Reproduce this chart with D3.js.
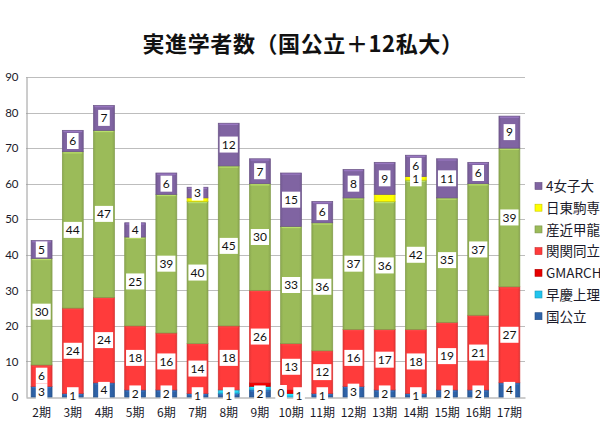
<!DOCTYPE html>
<html>
<head>
<meta charset="utf-8">
<script src="https://cdn.jsdelivr.net/npm/d3@7"></script>
<style>
  html, body { margin: 0; padding: 0; background: #fff; }
  svg { display: block; }
</style>
</head>
<body>
<svg id="chart" width="600" height="430"></svg>
<script>
// ---- data ----
const categories = ["2期","3期","4期","5期","6期","7期","8期","9期","10期","11期","12期","13期","14期","15期","16期","17期"];
const seriesNames = ["国公立","早慶上理","GMARCH","関関同立","産近甲龍","日東駒専","4女子大"];
const kokkoritsu = [3,1,4,2,2,1,1,2,0,1,3,2,1,2,2,4];
const sokei      = [0,0,0,0,0,0,1,1,1,0,0,0,0,0,0,0];
const gmarch     = [0,0,0,0,0,0,0,1,1,0,0,0,0,0,0,0];
const kankan     = [6,24,24,18,16,14,18,26,13,12,16,17,18,19,21,27];
const sankin     = [30,44,47,25,39,40,45,30,33,36,37,36,42,35,37,39];
const nittou     = [0,0,0,0,0,1,0,0,0,0,0,2,1,0,0,0];
const joshi      = [5,6,7,4,6,3,12,7,15,6,8,9,6,11,6,9];
const yTicks = [0,10,20,30,40,50,60,70,80,90];
const title = "実進学者数（国公立＋12私大）";
// series whose data labels are shown for every bar
const labelledSeries = ["国公立","関関同立","産近甲龍","4女子大"];
// extra individual data labels that are shown (series -> category indices)
const extraLabels = { "早慶上理": [8], "日東駒専": [12] };

const seriesValues = [kokkoritsu, sokei, gmarch, kankan, sankin, nittou, joshi];
const colors = ["#2f63a8","#22c4ee","#e60000","#ff3b3b","#9bbb59","#ffff00","#8064a2"];

// ---- layout ----
const svg = d3.select("#chart");
const margin = {left: 26, top: 77, right: 75, bottom: 33};
const W = 600, H = 430;
const innerW = W - margin.left - margin.right;
const innerH = H - margin.top - margin.bottom;

const rows = categories.map((c, i) => {
  const r = {cat: c};
  seriesNames.forEach((s, k) => r[s] = seriesValues[k][i]);
  return r;
});
const stacked = d3.stack().keys(seriesNames)(rows);

const x = d3.scaleBand().domain(categories).range([margin.left, margin.left + innerW]).paddingInner(0.33).paddingOuter(0.165);
const y = d3.scaleLinear().domain([0, 90]).range([margin.top + innerH, margin.top]);

// defs: gradients per series
const defs = svg.append("defs");
colors.forEach((c, k) => {
  const g = defs.append("linearGradient").attr("id", "g" + k).attr("x1", 0).attr("x2", 1).attr("y1", 0).attr("y2", 0);
  const base = d3.color(c);
  g.append("stop").attr("offset", "0%").attr("stop-color", base.darker(0.3));
  g.append("stop").attr("offset", "12%").attr("stop-color", base);
  g.append("stop").attr("offset", "88%").attr("stop-color", base);
  g.append("stop").attr("offset", "100%").attr("stop-color", base.darker(0.3));
});

// title
svg.append("text").attr("x", 303).attr("y", 52).attr("text-anchor", "middle")
  .attr("font-family", "'Noto Sans CJK JP', sans-serif").attr("font-weight", "bold")
  .attr("font-size", 22).attr("letter-spacing", 0.6).attr("fill", "#111").text(title);

// gridlines
const grid = svg.append("g");
grid.selectAll("line").data(yTicks.filter(t => t > 0)).join("line")
  .attr("x1", margin.left).attr("x2", margin.left + innerW)
  .attr("y1", d => Math.round(y(d)) + 0.5).attr("y2", d => Math.round(y(d)) + 0.5)
  .attr("stroke", "#bdbdbd").attr("stroke-width", 1);

// y axis
const yAxis = svg.append("g").attr("transform", `translate(${margin.left + 0.5},0)`)
  .call(d3.axisLeft(y).tickValues(yTicks).tickSize(0).tickPadding(8));
yAxis.select(".domain").attr("stroke", "#9a9a9a");
yAxis.selectAll("text").attr("font-family", "Lato, 'Liberation Sans', sans-serif").attr("font-size", 11.5).attr("fill", "#1a1a2a");

// x axis
const xAxis = svg.append("g").attr("transform", `translate(0,${margin.top + innerH + 0.5})`)
  .call(d3.axisBottom(x).tickSize(0).tickPadding(11));
xAxis.select(".domain").attr("stroke", "#9a9a9a");
xAxis.selectAll("text").attr("font-family", "'Noto Sans CJK JP', sans-serif").attr("font-size", 12).attr("fill", "#1a1a2a");

// bars
const layers = svg.append("g").selectAll("g").data(stacked).join("g")
  .attr("fill", (d, k) => `url(#g${k})`);
layers.selectAll("rect").data(d => d.filter(p => p[1] - p[0] > 0)).join("rect")
  .attr("x", p => x(p.data.cat))
  .attr("width", x.bandwidth())
  .attr("y", p => y(p[1]))
  .attr("height", p => y(p[0]) - y(p[1]))
  .attr("stroke", function() { const k = stacked.indexOf(d3.select(this.parentNode).datum()); return d3.color(colors[k]).darker(0.5); })
  .attr("stroke-width", 0.7);
// top highlight on each segment
layers.each(function(layer, k) {
  d3.select(this).selectAll("line.hl").data(layer.filter(p => p[1] - p[0] > 0)).join("line").attr("class", "hl")
    .attr("x1", p => x(p.data.cat) + 1).attr("x2", p => x(p.data.cat) + x.bandwidth() - 1)
    .attr("y1", p => y(p[1]) + 1.2).attr("y2", p => y(p[1]) + 1.2)
    .attr("stroke", d3.color(colors[k]).brighter(0.6)).attr("stroke-width", 1.2).attr("opacity", 0.8);
});

// data labels
const labels = [];
categories.forEach((c, i) => {
  const inBar = [];
  stacked.forEach((layer, k) => {
    const name = seriesNames[k];
    const show = labelledSeries.includes(name) || (extraLabels[name] || []).includes(i);
    if (!show) return;
    const p = layer[i];
    const lb = {cx: x(c) + x.bandwidth() / 2, cy: (y(p[0]) + y(p[1])) / 2, text: String(p.data[name]), dx: 0, dy: 0};
    if (inBar.length) {
      const prev = inBar[inBar.length - 1];
      if (Math.abs(prev.cy - lb.cy) < 8) { prev.dx = -10; prev.dy = -4; lb.dx = 8; }
    }
    inBar.push(lb);
  });
  labels.push(...inBar);
});
const lg = svg.append("g").selectAll("g").data(labels).join("g")
  .attr("transform", d => `translate(${d.cx + d.dx},${d.cy + d.dy})`);
lg.append("rect")
  .attr("x", d => -(d.text.length * 6.6 + 5) / 2).attr("y", -8)
  .attr("width", d => d.text.length * 6.6 + 5).attr("height", 16).attr("fill", "#fff");
lg.append("text").attr("text-anchor", "middle").attr("dy", "0.36em")
  .attr("font-family", "Lato, 'Liberation Sans', sans-serif").attr("font-size", 12).attr("fill", "#111")
  .text(d => d.text);

// legend (reverse order)
const legendItems = seriesNames.map((s, k) => ({name: s, color: colors[k]})).reverse();
const leg = svg.append("g").selectAll("g").data(legendItems).join("g")
  .attr("transform", (d, i) => `translate(535,${186.5 + i * 21.7})`);
leg.append("rect").attr("x", 0).attr("y", -4).attr("width", 7).attr("height", 7)
  .attr("fill", d => d.color).attr("stroke", d => d3.color(d.color).darker(0.7)).attr("stroke-width", 0.6);
leg.append("text").attr("x", 11).attr("dy", "0.36em")
  .attr("font-family", "'Noto Sans CJK JP', sans-serif").attr("font-size", 13.5).attr("fill", "#1a1a2a")
  .text(d => d.name);
</script>
</body>
</html>
